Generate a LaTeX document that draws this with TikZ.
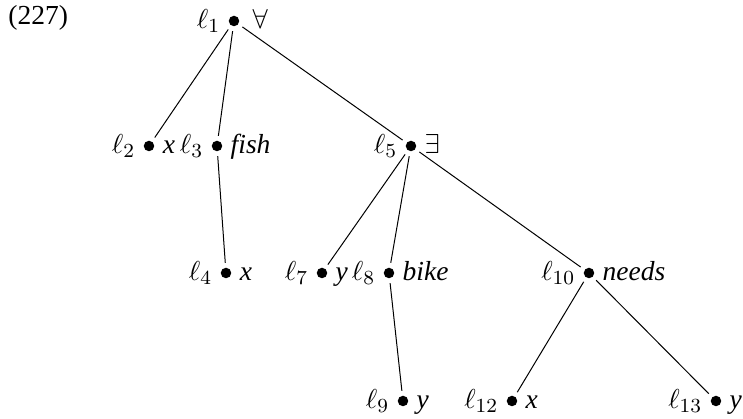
\documentclass[tikz,border=0pt]{standalone}
\usepackage{fontspec}
\setmainfont{Liberation Serif}
\tikzset{
  dot/.style={circle,fill,inner sep=0pt,minimum size=4.2pt,outer sep=2pt},
  lab/.style={inner sep=0.6pt,text height=1.7ex,text depth=.45ex},
}
\newcommand{\lname}[1]{$\ell_{#1}$}
\begin{document}
\begin{tikzpicture}[x=0.4pt,y=-0.4pt,font=\fontsize{11}{13}\selectfont,
  label distance=0.6pt,every label/.style={lab}]
 \useasboundingbox (0,0) rectangle (743,419);
 \node[anchor=base west,inner sep=0pt] (num) at (8,25) {(227)};
 % first row
 \node[dot,label=left:\lname{1},label={[xshift=2pt]right:$\forall$}] (l1) at (234,21) {};
 % second row
 \node[dot,label=left:\lname{2},label=right:\textit{x}] (l2) at (149,146) {};
 \node[dot,label=left:\lname{3},label=right:\textit{fish}] (l3) at (217,146) {};
 \node[dot,label=left:\lname{5},label=right:$\exists$] (l5) at (411,146) {};
 % third row
 \node[dot,label=left:\lname{4},label=right:\textit{x}] (l4) at (226,273) {};
 \node[dot,label=left:\lname{7},label=right:\textit{y}] (l7) at (322,273) {};
 \node[dot,label=left:\lname{8},label=right:\textit{bike}] (l8) at (389,273) {};
 \node[dot,label=left:\lname{10},label=right:\textit{needs}] (l10) at (589,273) {};
 % fourth row
 \node[dot,label=left:\lname{9},label=right:\textit{y}] (l9) at (403,401) {};
 \node[dot,label=left:\lname{12},label=right:\textit{x}] (l12) at (512,401) {};
 \node[dot,label=left:\lname{13},label=right:\textit{y}] (l13) at (716,401) {};
 % branches
 \draw (l1) -- (l2);
 \draw (l1) -- (l3);
 \draw (l1) -- (l5);
 \draw (l3) -- (l4);
 \draw (l5) -- (l7);
 \draw (l5) -- (l8);
 \draw (l5) -- (l10);
 \draw (l8) -- (l9);
 \draw (l10) -- (l12);
 \draw (l10) -- (l13);
\end{tikzpicture}
\end{document}
